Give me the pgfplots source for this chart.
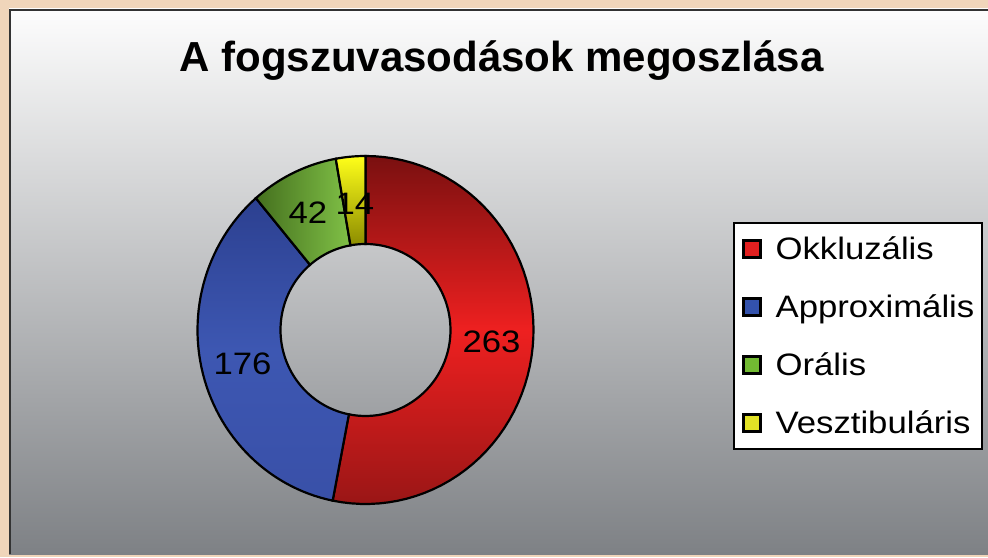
\documentclass[border=0pt]{standalone}
\usepackage{pgfplots}
\pgfplotsset{compat=1.18}
\usepackage{graphicx}
\usepackage{fontspec}
\setmainfont{Liberation Sans}
\definecolor{beige}{HTML}{F0D5BA}
\definecolor{bgtop}{HTML}{FDFDFD}
\definecolor{bgbot}{HTML}{7E8185}
\definecolor{legred}{HTML}{E22020}
\definecolor{legblue}{HTML}{3352AC}
\definecolor{leggreen}{HTML}{72BA32}
\definecolor{legyellow}{HTML}{E2E226}
\definecolor{redtop}{HTML}{7A1010}
\definecolor{redmid}{HTML}{EE2020}
\definecolor{redbot}{HTML}{9A1616}
\definecolor{bluetop}{HTML}{2C4090}
\definecolor{bluemid}{HTML}{3D57B2}
\definecolor{bluebot}{HTML}{3950A8}

% values (clockwise from 12 o'clock)
\def\valA{263}% Okkluzalis
\def\valB{176}% Approximalis
\def\valC{42}%  Oralis
\def\valD{14}%  Vesztibularis

\newcommand{\ring}[3]{%
  \addplot[#3, draw=black, line width=2.2pt, forget plot,
    samples at={0,1,...,60,100,101,...,160}, variable=\t]
  ({365.5 + (\t<80 ? 168 : 85)*cos(\t<80 ? (#1)+((#2)-(#1))*\t/60 : (#2)-((#2)-(#1))*(\t-100)/60)},
   {227 + (\t<80 ? 174 : 86)*sin(\t<80 ? (#1)+((#2)-(#1))*\t/60 : (#2)-((#2)-(#1))*(\t-100)/60)}) -- cycle;
}

\begin{document}
\begin{tikzpicture}
\pgfmathsetmacro{\tot}{\valA+\valB+\valC+\valD}
\pgfmathsetmacro{\aA}{90}
\pgfmathsetmacro{\aB}{\aA-\valA/\tot*360}
\pgfmathsetmacro{\aC}{\aB-\valB/\tot*360}
\pgfmathsetmacro{\aD}{\aC-\valC/\tot*360}
\pgfmathsetmacro{\aE}{\aD-\valD/\tot*360}
\begin{axis}[
  x=1pt, y=1pt, xmin=0, xmax=988, ymin=0, ymax=557,
  scale only axis, hide axis, clip=false,
  legend image code/.code={\draw[#1, draw=black, line width=2.6pt] (1.5pt,-8.5pt) rectangle (18.5pt,8.5pt);},
  legend style={at={(0.7419,0.6014)}, anchor=north west, draw=black, line width=2pt,
    fill=white, inner xsep=8pt, inner ysep=10pt, row sep=26pt,
    nodes={inner sep=0pt, text height=26pt, text depth=6pt, anchor=west,
      font=\fontsize{31}{31}\selectfont}},
  legend cell align=left,
  /tikz/every odd column/.append style={column sep=14pt},
]
% background
\fill[beige] (axis cs:0,0) rectangle (axis cs:988,557);
\shade[top color=bgtop, bottom color=bgbot] (axis cs:9,3) rectangle (axis cs:988,548);
\draw[line width=2.2pt, black!80] (axis cs:10,3) -- (axis cs:10,547) -- (axis cs:988,547);

% donut
\ring{\aA}{\aB}{top color=redtop, bottom color=redbot, middle color=redmid}
\ring{\aB}{\aC}{top color=bluetop, bottom color=bluebot, middle color=bluemid}
\ring{\aC}{\aD}{left color=leggreen!60!black, right color=leggreen!90!white}
\ring{\aD}{\aE}{top color=yellow!90!white, bottom color=yellow!55!black}

% labels
\node[anchor=base, font=\fontsize{31}{31}\selectfont] at (axis cs:491.5,204) {\scalebox{1.12}[1]{263}};
\node[anchor=base, font=\fontsize{31}{31}\selectfont] at (axis cs:242.5,182) {\scalebox{1.12}[1]{176}};
\node[anchor=base, font=\fontsize{31}{31}\selectfont] at (axis cs:308,333) {\scalebox{1.12}[1]{42}};
\node[anchor=base, font=\fontsize{31}{31}\selectfont] at (axis cs:355,342) {\scalebox{1.12}[1]{14}};

% title
\node[anchor=base, font=\fontsize{42}{42}\selectfont\bfseries] at (axis cs:501.5,485) {A fogszuvasodások megoszlása};

\addlegendimage{fill=legred}
\addlegendentry{\scalebox{1.12}[1]{Okkluzális}}
\addlegendimage{fill=legblue}
\addlegendentry{\scalebox{1.12}[1]{Approximális}}
\addlegendimage{fill=leggreen}
\addlegendentry{\scalebox{1.12}[1]{Orális}}
\addlegendimage{fill=legyellow}
\addlegendentry{\scalebox{1.12}[1]{Vesztibuláris}}
\end{axis}
\pgfresetboundingbox
\path[use as bounding box] (0,0) rectangle (988pt,557pt);
\end{tikzpicture}
\end{document}
